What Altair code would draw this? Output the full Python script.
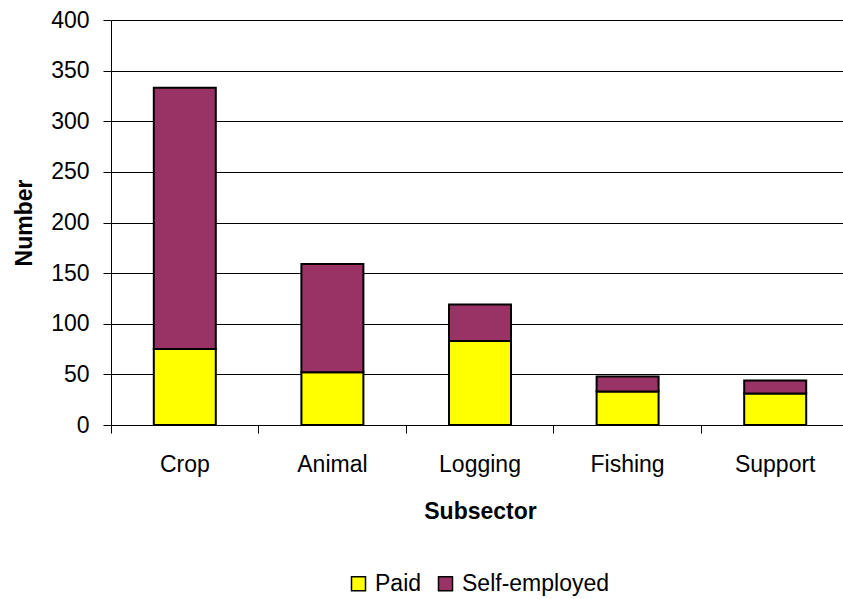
import altair as alt
import pandas as pd

subsectors = ["Crop", "Animal", "Logging", "Fishing", "Support"]
paid = [75, 52, 83, 33, 31]
self_employed = [258, 107, 36, 15, 13]
series_names = ["Paid", "Self-employed"]
series_colors = ["#FFFF00", "#993366"]

rows = []
for i, s in enumerate(subsectors):
    rows.append({"Subsector": s, "Type": series_names[0], "Number": paid[i], "ord": 0})
    rows.append({"Subsector": s, "Type": series_names[1], "Number": self_employed[i], "ord": 1})
df = pd.DataFrame(rows)

FONT = "Liberation Sans"

chart = alt.Chart(df).mark_bar(
    width=alt.RelativeBandSize(0.42),
    stroke="black",
    strokeWidth=2,
).encode(
    x=alt.X(
        "Subsector:N",
        sort=subsectors,
        scale=alt.Scale(paddingInner=0, paddingOuter=0, range=[0, 738]),
        axis=alt.Axis(
            title="Subsector",
            labelAngle=0,
            bandPosition=0,
            tickSize=8,
            tickColor="black",
            domainColor="black",
            labelPadding=20,
            labelFontSize=23,
            labelColor="black",
            titleFontSize=23,
            titleFontWeight="bold",
            titleColor="black",
            titlePadding=24,
            grid=False,
        ),
    ),
    y=alt.Y(
        "Number:Q",
        stack="zero",
        scale=alt.Scale(domain=[0, 400], nice=False),
        axis=alt.Axis(
            title="Number",
            values=[0, 50, 100, 150, 200, 250, 300, 350, 400],
            tickSize=8,
            tickColor="black",
            domainColor="black",
            gridColor="black",
            gridOpacity=1,
            labelPadding=14,
            labelFontSize=23,
            labelColor="black",
            titleFontSize=23,
            titleFontWeight="bold",
            titleColor="black",
            titlePadding=14,
        ),
    ),
    color=alt.Color(
        "Type:N",
        scale=alt.Scale(domain=series_names, range=series_colors),
        legend=alt.Legend(
            orient="none",
            legendX=236,
            legendY=552,
            direction="horizontal",
            title=None,
            symbolType="square",
            symbolSize=196,
            symbolStrokeColor="black",
            symbolStrokeWidth=1.5,
            symbolOpacity=1,
            labelFontSize=23,
            labelColor="black",
            labelOffset=5,
            columnPadding=12,
            padding=0,
        ),
    ),
    order=alt.Order("ord:Q"),
).properties(
    width=732,
    height=405,
    autosize=alt.AutoSizeParams(type="none"),
    padding={"left": 111, "top": 20, "right": 0, "bottom": 174},
).configure(
    font=FONT,
).configure_view(
    stroke=None,
).configure_axis(
    labelFont=FONT,
    titleFont=FONT,
)

chart.save("out.html", embed_options={"renderer": "svg", "actions": False})
